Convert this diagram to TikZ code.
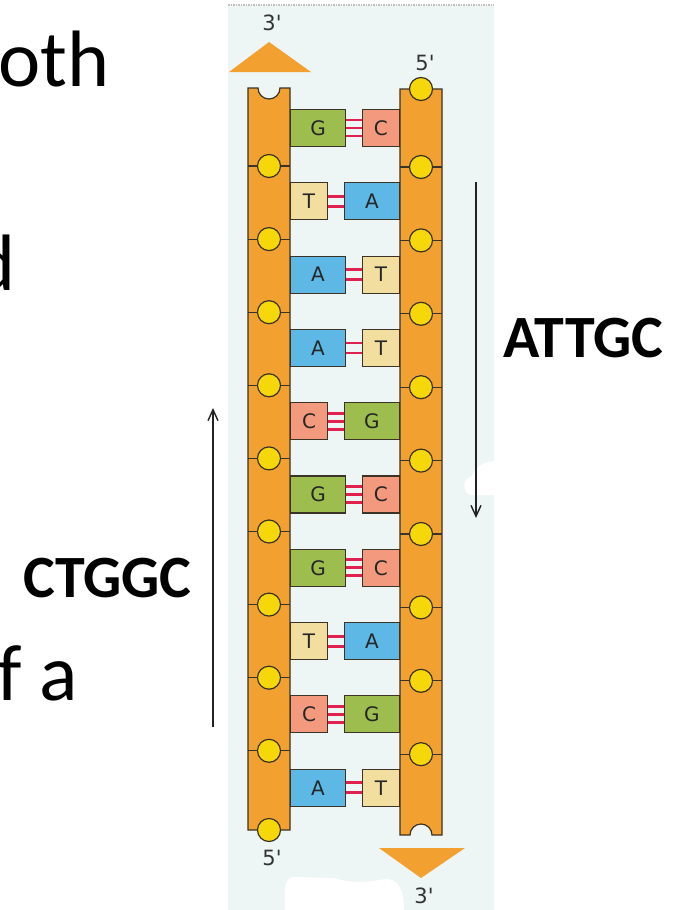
\documentclass[tikz,border=0pt]{standalone}
\usepackage{fontspec}
\setmainfont{Carlito}
\newfontfamily\basefont{DejaVu Sans}
\usetikzlibrary{arrows.meta}

\definecolor{panel}{HTML}{EEF5F5}
\definecolor{spine}{HTML}{F2A130}
\definecolor{edge}{HTML}{3B3326}
\definecolor{knob}{HTML}{F6D70A}
\definecolor{gbase}{HTML}{9DBE4E}
\definecolor{cbase}{HTML}{F39A7E}
\definecolor{abase}{HTML}{5DB8E6}
\definecolor{tbase}{HTML}{F2DFA0}
\definecolor{hbond}{HTML}{E0204E}
\definecolor{ink}{HTML}{222222}

\tikzset{
  backbone/.style={draw=edge, fill=spine, line width=1.2pt},
  knobline/.style={draw=edge, line width=1.2pt},
  knobcirc/.style={circle, draw=edge, fill=knob, line width=1.2pt,
    minimum size=23pt, inner sep=0pt},
  basebox/.style={rectangle, draw=edge, line width=1.1pt, minimum height=37pt,
    inner sep=0pt, font=\basefont\fontsize{20}{20}\selectfont, text=black!85},
  base G/.style={fill=gbase, minimum width=55pt},
  base A/.style={fill=abase, minimum width=55pt},
  base C/.style={fill=cbase, minimum width=37pt},
  base T/.style={fill=tbase, minimum width=37pt},
  bondline/.style={draw=hbond, line width=2.8pt},
  endlabel/.style={font=\basefont\fontsize{21}{21}\selectfont, text=black!80, inner sep=0pt},
  endcap/.style={fill=spine},
  seqlabel/.style={font=\bfseries\fontsize{60}{60}\selectfont, anchor=base west, inner sep=0pt},
  slidetext/.style={font=\fontsize{80}{80}\selectfont, anchor=base west, inner sep=0pt},
  seqarrow/.style={draw=ink, line width=1.6pt, -{Straight Barb[length=11pt,width=10pt,line width=1.4pt]}},
}

\begin{document}
\begin{tikzpicture}[x=1pt,y=-1pt]
\useasboundingbox (0,0) rectangle (685,910);
\clip (0,0) rectangle (685,910);

% light panel behind the ladder
\fill[panel] (228,5) rectangle (494,910);
\draw[black!25, densely dotted, line width=1.5pt] (228,5) -- (494,5);
% white patches on the panel
\fill[white] (285,910) .. controls (284,892) and (284,880) .. (292,877)
  -- (335,878) .. controls (350,884) and (370,882) .. (385,879)
  .. controls (398,878) and (404,890) .. (404,910) -- cycle;
\fill[white] (494,461) .. controls (482,462) and (474,468) .. (472,476)
  .. controls (463,479) and (461,490) .. (470,495) -- (494,495) -- cycle;

% sugar-phosphate backbones
\draw[backbone] (248,830) -- (248,88) -- (258,88)
  arc[start angle=180, end angle=0, radius=11] -- (290,88) -- (290,830) -- cycle;
\draw[backbone] (400,835) -- (400,89) -- (442,89) -- (442,835) -- (432,835)
  arc[start angle=0, end angle=-180, radius=11] -- (400,835) -- cycle;

% end caps
\fill[endcap] (229,72) -- (269,42) -- (311,72) -- cycle;
\fill[endcap] (379,848) -- (421,878) -- (465,848) -- cycle;

% phosphate knobs
\foreach \k in {0,...,8} {
  \pgfmathsetmacro\yl{166+73.1*\k}
  \pgfmathsetmacro\yr{167+73.4*\k}
  \draw[knobline] (248,\yl) -- (290,\yl);
  \draw[knobline] (400,\yr) -- (442,\yr);
  \node[knobcirc] (KL\k) at (269,\yl) {};
  \node[knobcirc] (KR\k) at (421,\yr) {};
}
\node[knobcirc] (KRtop) at (421,89) {};
\node[knobcirc] (KLbot) at (269,830) {};

% base pairs with hydrogen bonds
\foreach \l/\r/\n [count=\i from 0] in
  {G/C/3, T/A/2, A/T/2, A/T/2, C/G/3, G/C/3, G/C/3, T/A/2, C/G/3, A/T/2} {
  \pgfmathsetmacro\yb{128+73.3*\i}
  \node[basebox, base \l, anchor=west] (BL\i) at (290,\yb) {\l};
  \node[basebox, base \r, anchor=east] (BR\i) at (400,\yb) {\r};
  \ifnum\n=3
    \draw[bondline] ([yshift=8pt]BL\i.east) -- ([yshift=8pt]BR\i.west);
    \draw[bondline] (BL\i.east) -- (BR\i.west);
    \draw[bondline] ([yshift=-8pt]BL\i.east) -- ([yshift=-8pt]BR\i.west);
  \else
    \draw[bondline] ([yshift=5pt]BL\i.east) -- ([yshift=5pt]BR\i.west);
    \draw[bondline] ([yshift=-5pt]BL\i.east) -- ([yshift=-5pt]BR\i.west);
  \fi
}

% strand ends
\node[endlabel] (endA) at (272,23) {3\textquotesingle};
\node[endlabel] (endB) at (425,63) {5\textquotesingle};
\node[endlabel] (endC) at (272,858) {5\textquotesingle};
\node[endlabel] (endD) at (424,896) {3\textquotesingle};

% reading directions
\coordinate (upS) at (213,727);
\coordinate (upE) at (213,408);
\draw[seqarrow] (upS) -- (upE);
\coordinate (dnS) at (476,182);
\coordinate (dnE) at (476,518);
\draw[seqarrow] (dnS) -- (dnE);

\node[seqlabel] (seqR) at (503,357) {ATTGC};
\node[seqlabel] (seqL) at (23,597) {CTGGC};

% slide text running behind
\node[slidetext] (w1) at (-2,86) {oth};
\node[slidetext] (w2) at (-27,290) {d};
\node[slidetext] (w3) at (-3,700) {f a};
\end{tikzpicture}
\end{document}
